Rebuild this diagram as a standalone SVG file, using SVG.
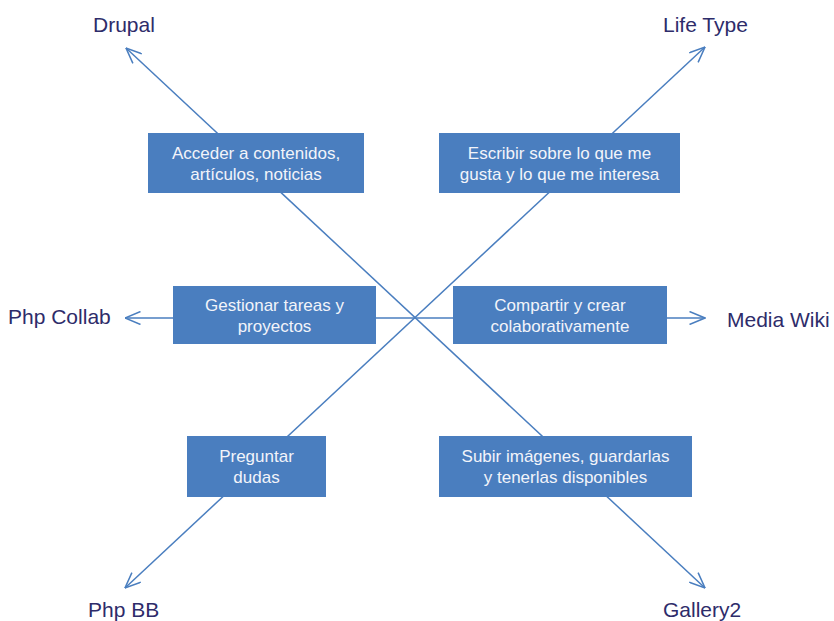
<svg xmlns="http://www.w3.org/2000/svg" width="834" height="621" viewBox="0 0 834 621">
<style>
.bg{fill:#ffffff}
.conn{stroke:#4A7EBF;stroke-width:1.5;fill:none;marker-start:url(#arr);marker-end:url(#arr)}
.box{fill:#4A7EBF}
.bt{font-family:"Liberation Sans",Arial,sans-serif;font-size:17px;fill:#F2F4FA;text-anchor:middle}
.lbl{font-family:"Liberation Sans",Arial,sans-serif;font-size:21px;fill:#2E2C6A}
</style>
<defs>
<marker id="arr" viewBox="0 0 17 14" refX="16.5" refY="7" markerWidth="17" markerHeight="14" markerUnits="userSpaceOnUse" orient="auto-start-reverse">
<path d="M1,0.5 L16.5,7 L1,13.5" fill="none" stroke="#4A7EBF" stroke-width="1.5"/>
</marker>
</defs>
<rect class="bg" x="0" y="0" width="834" height="621"/>
<g id="connectors">
<line class="conn" x1="126" y1="48" x2="705" y2="588"/>
<line class="conn" x1="125" y1="588" x2="705" y2="47"/>
<line class="conn" x1="125" y1="318" x2="705" y2="318"/>
</g>
<g id="n-acceder">
<rect class="box" x="148" y="133" width="216" height="60"/>
<text class="bt" x="256" y="159">Acceder a contenidos,</text>
<text class="bt" x="256" y="180">artículos, noticias</text>
</g>
<g id="n-escribir">
<rect class="box" x="439" y="133" width="241" height="60"/>
<text class="bt" x="559.5" y="159">Escribir sobre lo que me</text>
<text class="bt" x="559.5" y="180">gusta y lo que me interesa</text>
</g>
<g id="n-gestionar">
<rect class="box" x="173" y="286" width="203" height="58"/>
<text class="bt" x="274.5" y="311">Gestionar tareas y</text>
<text class="bt" x="274.5" y="332">proyectos</text>
</g>
<g id="n-compartir">
<rect class="box" x="453" y="286" width="214" height="58"/>
<text class="bt" x="560" y="311">Compartir y crear</text>
<text class="bt" x="560" y="332">colaborativamente</text>
</g>
<g id="n-preguntar">
<rect class="box" x="187" y="436" width="139" height="61"/>
<text class="bt" x="256.5" y="462">Preguntar</text>
<text class="bt" x="256.5" y="483">dudas</text>
</g>
<g id="n-subir">
<rect class="box" x="439" y="436" width="253" height="61"/>
<text class="bt" x="565.5" y="462">Subir imágenes, guardarlas</text>
<text class="bt" x="565.5" y="483">y tenerlas disponibles</text>
</g>
<g id="l-drupal"><text class="lbl" x="93" y="32">Drupal</text></g>
<g id="l-lifetype"><text class="lbl" x="663" y="32">Life Type</text></g>
<g id="l-phpcollab"><text class="lbl" x="8" y="324">Php Collab</text></g>
<g id="l-mediawiki"><text class="lbl" x="727" y="327">Media Wiki</text></g>
<g id="l-phpbb"><text class="lbl" x="88" y="617">Php BB</text></g>
<g id="l-gallery2"><text class="lbl" x="663" y="617">Gallery2</text></g>
</svg>
